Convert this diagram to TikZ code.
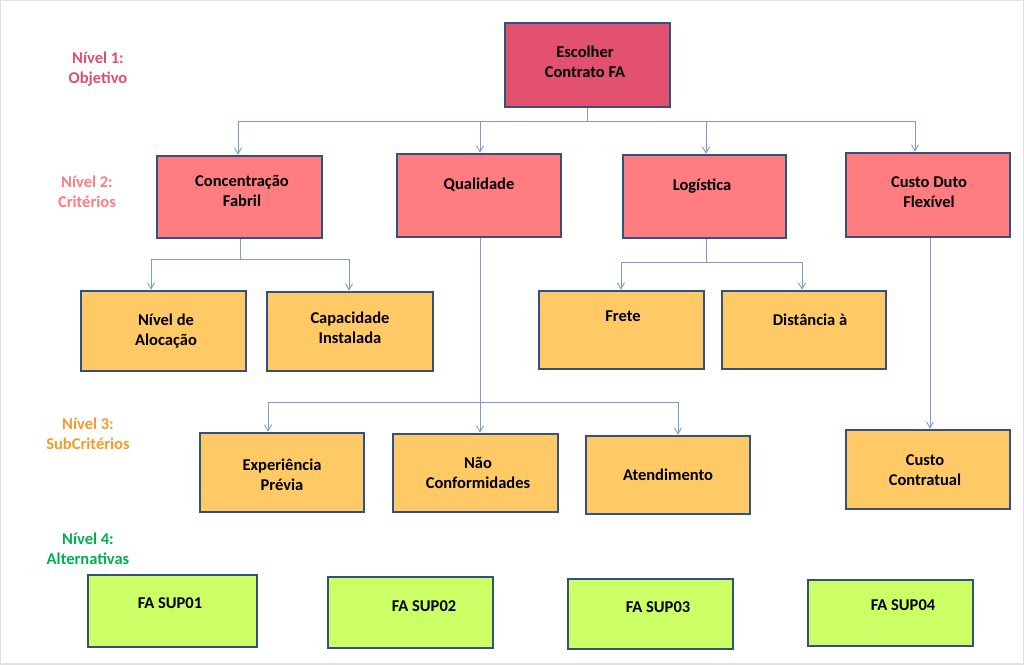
\documentclass[tikz,border=0pt]{standalone}
\usepackage{fontspec}
\setmainfont{Carlito}
\usetikzlibrary{arrows.meta,calc}
\definecolor{topfill}{HTML}{E2526F}
\definecolor{lvtwo}{HTML}{FF7C80}
\definecolor{lvthree}{HTML}{FFC966}
\definecolor{lvfour}{HTML}{CCFF66}
\definecolor{bordc}{HTML}{34507F}
\definecolor{connc}{HTML}{7B9BC8}
\definecolor{labone}{HTML}{E0506E}
\definecolor{labtwo}{HTML}{FF7C80}
\definecolor{labthree}{HTML}{F79A2E}
\definecolor{labfour}{HTML}{00B050}
\newcommand\boxnode[6]{%
  \node[#6, minimum width={(#4-#2)*1pt}, minimum height={(#5-#3)*1pt}]
    (#1) at ({(#2+#4)/2},{(#3+#5)/2}) {};}
\begin{document}
\begin{tikzpicture}[x=1pt,y=-1pt,
  bx/.style={draw=bordc, line width=2.6pt, inner sep=0pt, outer sep=1.3pt, rectangle},
  topbox/.style={bx, fill=topfill},
  twobox/.style={bx, fill=lvtwo},
  threebox/.style={bx, fill=lvthree},
  fourbox/.style={bx, fill=lvfour},
  txt/.style={align=center, font=\fontsize{16.5}{20}\selectfont\bfseries, text=black, inner sep=0pt},
  lab/.style={align=center, font=\fontsize{16.5}{20}\selectfont\bfseries, inner sep=0pt},
  conn/.style={draw=connc, line width=1pt},
  arr/.style={conn, -{Straight Barb[length=6pt,width=7pt,line width=0.9pt]}}]
\useasboundingbox (0,0) rectangle (1024,664);
\draw[black!12, line width=2pt] (0,0) rectangle (1024,664);
% level labels
\node[lab, text=labone] (lab1) at (98,69) {Nível 1:\\Objetivo};
\node[lab, text=labtwo] (lab2) at (87,192) {Nível 2:\\Critérios};
\node[lab, text=labthree] (lab3) at (88,434) {Nível 3:\\SubCritérios};
\node[lab, text=labfour] (lab4) at (88,549) {Nível 4:\\Alternativas};
% boxes
\boxnode{top}{505}{23}{670}{107}{topbox}
\boxnode{ca}{157}{156}{322}{238}{twobox}
\boxnode{cb}{397}{154}{561}{237}{twobox}
\boxnode{cc}{623}{155}{786}{238}{twobox}
\boxnode{cd}{846}{153}{1010}{237}{twobox}
\boxnode{sa}{81}{291}{246}{371}{threebox}
\boxnode{sb}{267}{292}{433}{371}{threebox}
\boxnode{sc}{539}{291}{704}{369}{threebox}
\boxnode{sd}{722}{291}{886}{369}{threebox}
\boxnode{se}{200}{433}{364}{512}{threebox}
\boxnode{sf}{393}{434}{558}{512}{threebox}
\boxnode{sg}{586}{436}{750}{514}{threebox}
\boxnode{sh}{846}{430}{1010}{509}{threebox}
\boxnode{aa}{88}{575}{257}{647}{fourbox}
\boxnode{ab}{328}{577}{493}{648}{fourbox}
\boxnode{ac}{568}{579}{733}{649}{fourbox}
\boxnode{ad}{808}{580}{973}{646}{fourbox}
% texts
\node[txt] (ttop) at (585,62) {Escolher\\Contrato FA};
\node[txt] (tca) at (242,191) {Concentração\\Fabril};
\node[txt] (tcb) at (479,185) {Qualidade};
\node[txt] (tcc) at (702,186) {Logística};
\node[txt] (tcd) at (929,192) {Custo Duto\\Flexível};
\node[txt] (tsa) at (166,331) {Nível de\\Alocação};
\node[txt] (tsb) at (350,328) {Capacidade\\Instalada};
\node[txt] (tsc) at (623,316) {Frete};
\node[txt] (tsd) at (810,320) {Distância à};
\node[txt] (tse) at (282,475) {Experiência\\Prévia};
\node[txt] (tsf) at (478,473) {Não\\Conformidades};
\node[txt] (tsg) at (668,475) {Atendimento};
\node[txt] (tsh) at (925,470) {Custo\\Contratual};
\node[txt] (taa) at (170,603) {FA SUP01};
\node[txt] (tab) at (424,606) {FA SUP02};
\node[txt] (tac) at (658,607) {FA SUP03};
\node[txt] (tad) at (903,605) {FA SUP04};
% connectors level 1 -> 2
\coordinate (tj) at ($(top.south)+(0,13)$);
\draw[arr] (top.south) -- (tj) -| ($(ca.north)+(-1.5,0)$);
\draw[arr] (tj) -| ($(cb.north)+(1,0)$);
\draw[arr] (tj) -| ($(cc.north)+(1.5,0)$);
\draw[arr] (tj) -| ($(cd.north)+(-13,0)$);
% Concentracao
\coordinate (caj) at ($(ca.south)+(0.5,20)$);
\draw[conn] (ca.south) ++(0.5,0) -- (caj);
\draw[arr] (caj) -| ($(sa.north)+(-12.5,0)$);
\draw[arr] (caj) -| ($(sb.north)+(-1,0)$);
% Logistica
\coordinate (ccj) at ($(cc.south)+(1.5,23)$);
\draw[conn] (cc.south) ++(1.5,0) -- (ccj);
\draw[arr] (ccj) -| ($(sc.north)+(-0.5,0)$);
\draw[arr] (ccj) -| ($(sd.north)+(-2,0)$);
% Qualidade
\draw[arr] ($(cb.south)+(1,0)$) -- ($(sf.north)+(4.5,0)$);
\coordinate (qj) at ($(cb.south)+(1,164)$);
\draw[arr] (qj) -| ($(se.north)+(-14,0)$);
\draw[arr] (qj) -| ($(sg.north)+(10,0)$);
% Custo Duto
\draw[arr] ($(cd.south)+(2,0)$) -- ($(sh.north)+(2,0)$);
\end{tikzpicture}
\end{document}
